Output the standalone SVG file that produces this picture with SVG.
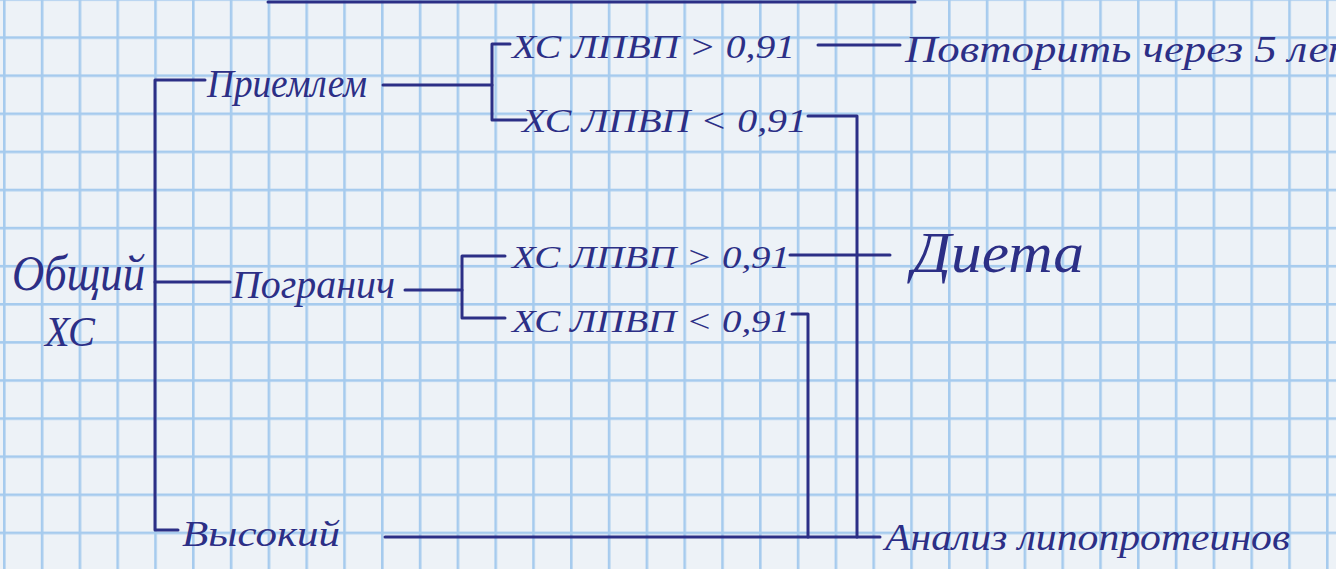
<svg xmlns="http://www.w3.org/2000/svg" width="1336" height="569" viewBox="0 0 1336 569">
<style>
.ink{fill:#2c2f86;font-family:"Liberation Serif","DejaVu Serif",serif;font-style:italic}
.c{stroke:#2c2f86;stroke-width:3;fill:none;stroke-linecap:round;stroke-linejoin:round}
</style>
<defs>
<pattern id="grid" x="3" y="-1.8" width="37.8" height="38.1" patternUnits="userSpaceOnUse">
<rect x="0" y="0" width="37.8" height="38.1" fill="#edf2f7"/>
<rect x="0" y="0" width="2.6" height="38.1" fill="#a6cbee"/>
<rect x="0" y="0" width="37.8" height="2.6" fill="#a6cbee"/>
</pattern>
</defs>
<rect width="1336" height="569" fill="url(#grid)"/>
<g id="connectors" class="c">
<path d="M268 2 H915"/>
<path d="M205 80 H155 V530 H178"/>
<path d="M155 282 H230"/>
<path d="M383 85 H492"/>
<path d="M510 44 H492 V120 H526"/>
<path d="M818 45 H900"/>
<path d="M808 116 H857 V537"/>
<path d="M405 290 H462"/>
<path d="M505 256 H462 V318 H505"/>
<path d="M790 255 H890"/>
<path d="M792 314 H808 V537"/>
<path d="M385 537 H880"/>
</g>
<g id="node-total">
<text class="ink" x="12" y="290" font-size="50" textLength="133" lengthAdjust="spacingAndGlyphs">Общий</text>
<text class="ink" x="45" y="346" font-size="42" textLength="50" lengthAdjust="spacingAndGlyphs">ХС</text>
</g>
<g id="node-acceptable">
<text class="ink" x="207" y="97" font-size="40" textLength="160" lengthAdjust="spacingAndGlyphs">Приемлем</text>
</g>
<g id="node-borderline">
<text class="ink" x="232" y="298" font-size="40" textLength="163" lengthAdjust="spacingAndGlyphs">Погранич</text>
</g>
<g id="node-high">
<text class="ink" x="182" y="546" font-size="36" textLength="158" lengthAdjust="spacingAndGlyphs">Высокий</text>
</g>
<g id="node-hdl-hi-1">
<text class="ink" x="512" y="58" font-size="34" textLength="283" lengthAdjust="spacingAndGlyphs">ХС ЛПВП &gt; 0,91</text>
</g>
<g id="node-hdl-lo-1">
<text class="ink" x="522" y="132" font-size="34" textLength="285" lengthAdjust="spacingAndGlyphs">ХС ЛПВП &lt; 0,91</text>
</g>
<g id="node-hdl-hi-2">
<text class="ink" x="512" y="268" font-size="32" textLength="278" lengthAdjust="spacingAndGlyphs">ХС ЛПВП &gt; 0,91</text>
</g>
<g id="node-hdl-lo-2">
<text class="ink" x="512" y="332" font-size="32" textLength="278" lengthAdjust="spacingAndGlyphs">ХС ЛПВП &lt; 0,91</text>
</g>
<g id="node-repeat">
<text class="ink" x="905" y="62" font-size="38" textLength="455" lengthAdjust="spacingAndGlyphs">Повторить через 5 лет</text>
</g>
<g id="node-diet">
<text class="ink" x="912" y="272" font-size="58" textLength="172" lengthAdjust="spacingAndGlyphs">Диета</text>
</g>
<g id="node-analysis">
<text class="ink" x="885" y="550" font-size="38" textLength="405" lengthAdjust="spacingAndGlyphs">Анализ липопротеинов</text>
</g>
</svg>
